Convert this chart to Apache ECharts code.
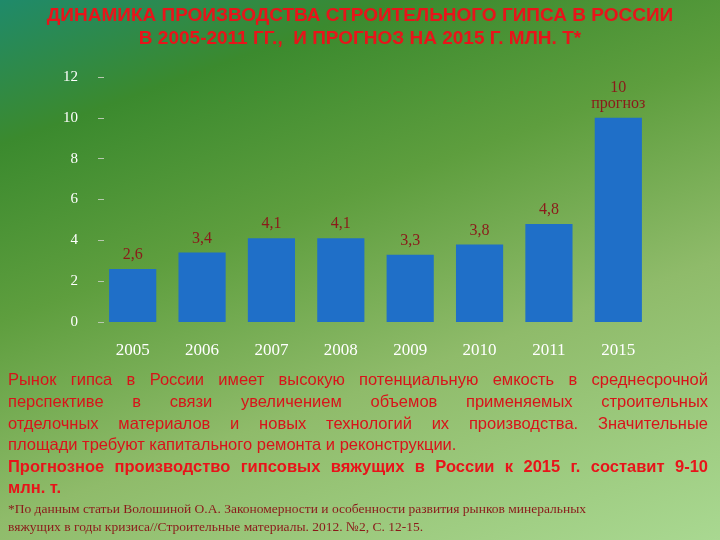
<!DOCTYPE html>
<html><head><meta charset="utf-8">
<script src="https://cdn.jsdelivr.net/npm/echarts@6/dist/echarts.min.js"></script>
<style>
html,body{margin:0;padding:0;}
#c{width:720px;height:540px;background:linear-gradient(160deg,#1f8a6a 0%,#3b8a2e 18%,#5e9e3e 40%,#8fbb6a 65%,#a9d891 100%);}
</style></head><body><div id="c"></div>
<script>
const categories=['2005','2006','2007','2008','2009','2010','2011','2015'];
const values=[2.6,3.4,4.1,4.1,3.3,3.8,4.8,10];
const valueLabels=['2,6','3,4','4,1','4,1','3,3','3,8','4,8','10\nпрогноз'];
const yTicks=[0,2,4,6,8,10,12];
const titleLines=['ДИНАМИКА ПРОИЗВОДСТВА СТРОИТЕЛЬНОГО ГИПСА В РОССИИ','В 2005-2011 ГГ.,  И ПРОГНОЗ НА 2015 Г. МЛН. Т*'];
const paraLines=['Рынок гипса в России имеет высокую потенциальную емкость в среднесрочной','перспективе в связи увеличением объемов применяемых строительных','отделочных материалов и новых технологий их производства. Значительные','площади требуют капитального ремонта и реконструкции.'];
const boldLines=['Прогнозное производство гипсовых вяжущих в России к 2015 г. составит 9-10','млн. т.'];
const noteLines=['*По данным статьи Волошиной О.А. Закономерности и особенности развития рынков минеральных','вяжущих в годы кризиса//Строительные материалы. 2012. №2, С. 12-15.'];

const chart=echarts.init(document.getElementById('c'));
const ctx=document.createElement('canvas').getContext('2d');
const g=[];
function line(t,x,y,font,fill,justifyTo){
  if(!justifyTo){g.push({type:'text',x:x,y:y,style:{text:t,fill:fill,font:font}});return;}
  ctx.font=font;
  const words=t.split(' ');
  const ws=words.map(w=>ctx.measureText(w).width);
  const total=ws.reduce((a,b)=>a+b,0);
  const gap=(justifyTo-x-total)/(words.length-1);
  let cx=x;
  words.forEach((w,i)=>{g.push({type:'text',x:cx,y:y,style:{text:w,fill:fill,font:font}});cx+=ws[i]+gap;});
}
titleLines.forEach((t,i)=>g.push({type:'text',left:'center',top:6+i*23,style:{text:t,fill:'#e8141a',font:'bold 19px "Liberation Sans Narrow","Liberation Sans",Arial'}}));
const pf='16.5px "Liberation Sans",Arial';
const bf='bold 16.5px "Liberation Sans",Arial';
const yPara=[372,394,416,437];
paraLines.forEach((t,i)=>line(t,8,yPara[i],pf,'#d8141a',i<3?708:0));
boldLines.forEach((t,i)=>line(t,8,459+i*21,bf,'#e8141a',i<1?708:0));
noteLines.forEach((t,i)=>line(t,8,502+i*18,'13.5px "Liberation Serif",serif','#8b1a1a',0));

chart.setOption({
  animation:false,
  grid:{left:98,right:67,top:77,bottom:218},
  graphic:g,
  xAxis:{type:'category',data:categories,axisLine:{show:false},axisTick:{show:false},
    axisLabel:{color:'#ffffff',fontFamily:'Liberation Serif',fontSize:17,margin:20}},
  yAxis:{type:'value',min:0,max:12,interval:2,splitLine:{show:false},axisLine:{show:false},
    axisTick:{show:true,inside:true,length:6,lineStyle:{color:'#b8c8b0'}},
    axisLabel:{color:'#ffffff',fontFamily:'Liberation Serif',fontSize:15,margin:20,
      formatter:v=>yTicks.includes(v)?String(v):''}},
  series:[{type:'bar',data:values,barCategoryGap:'32%',itemStyle:{color:'#1f6fc8'},
    label:{show:true,position:'top',distance:6,color:'#8b1a1a',fontFamily:'Liberation Serif',fontSize:16,
      formatter:p=>valueLabels[p.dataIndex]}}]
});
</script></body></html>
